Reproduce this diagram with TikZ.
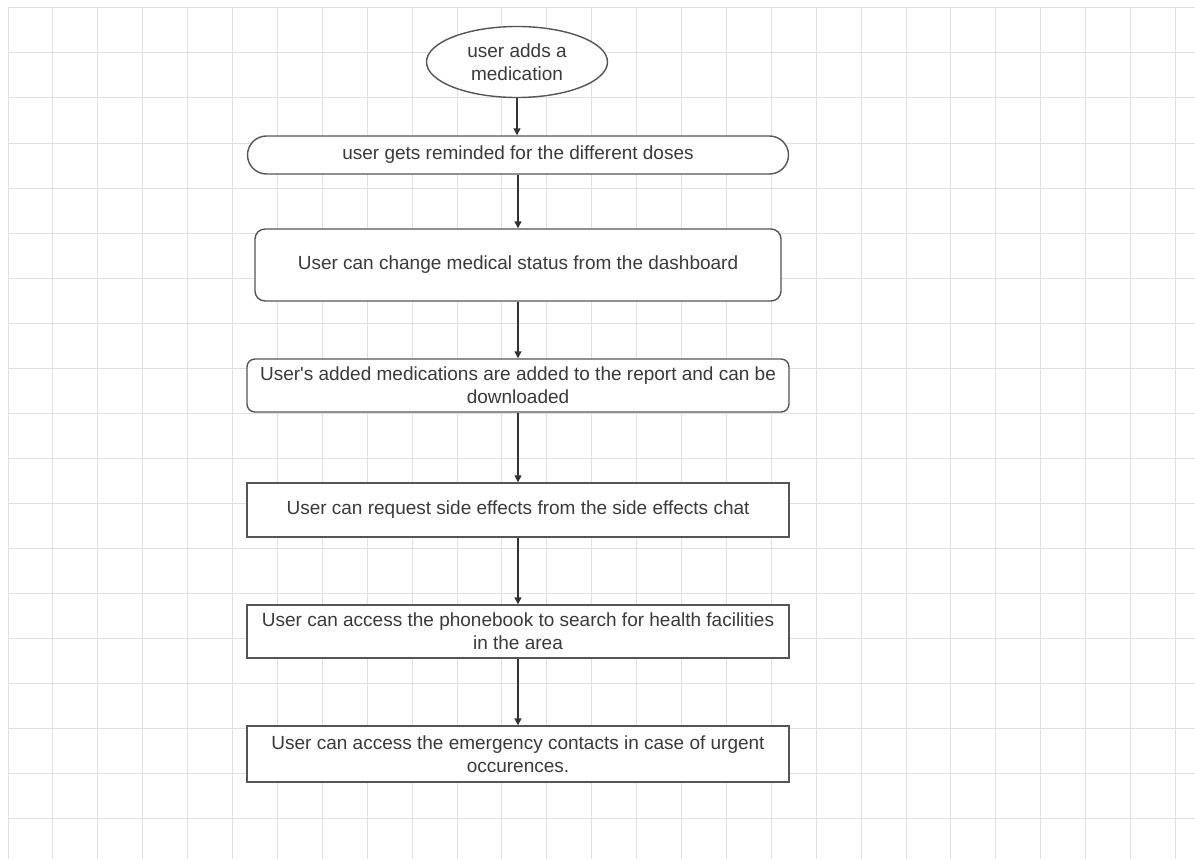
\documentclass[tikz,border=0pt]{standalone}
\usepackage{fontspec}
\setmainfont{Liberation Sans}
\usetikzlibrary{shapes.geometric,arrows.meta}
\definecolor{gridc}{HTML}{E0E0E0}
\definecolor{edgec}{HTML}{555555}
\definecolor{textc}{HTML}{3A3A3A}
\definecolor{arrc}{HTML}{333333}
\tikzset{
  gridline/.style={draw=gridc, line width=1pt},
  flowbox/.style={draw=edgec, line width=1.4pt, fill=white, text=textc, align=center,
    inner sep=0pt, font=\fontsize{19}{23}\selectfont},
  startnode/.style={flowbox, ellipse},
  flowarrow/.style={draw=arrc, line width=1.4pt, -{Triangle[length=7pt,width=7pt]}}
}
\begin{document}
\begin{tikzpicture}[x=1pt,y=-1pt]
\useasboundingbox (0,0) rectangle (1195,859);
\fill[white] (0,0) rectangle (1195,859);
\foreach \i in {0,...,26} {\draw[gridline] ({8+44.9*\i},8) -- ({8+44.9*\i},859);}
\foreach \j in {0,...,18} {\draw[gridline] (8,{8+45*\j}) -- (1195,{8+45*\j});}

\node[startnode, minimum width=181pt, minimum height=71pt] (start) at (517,62) {user adds a\\medication};
\node[flowbox, rounded corners=19pt, minimum width=541pt, minimum height=38pt] (remind) at (518,155) {user gets reminded for the different doses};
\node[flowbox, rounded corners=10pt, minimum width=526pt, minimum height=72pt] (status) at (518,265) {User can change medical status from the dashboard};
\node[flowbox, rounded corners=8pt, minimum width=542pt, minimum height=53pt] (report) at (518,385.5) {User\textquotesingle s added medications are added to the report and can be\\downloaded};
\node[flowbox, minimum width=542pt, minimum height=54pt] (side) at (518,510) {User can request side effects from the side effects chat};
\node[flowbox, minimum width=542pt, minimum height=53pt] (phone) at (518,631.5) {User can access the phonebook to search for health facilities\\in the area};
\node[flowbox, minimum width=542pt, minimum height=56pt] (emerg) at (518,754) {User can access the emergency contacts in case of urgent\\occurences.};

\draw[flowarrow] (start.south) -- (start.south |- remind.north);
\draw[flowarrow] (remind.south) -- (remind.south |- status.north);
\draw[flowarrow] (status.south) -- (status.south |- report.north);
\draw[flowarrow] (report.south) -- (report.south |- side.north);
\draw[flowarrow] (side.south) -- (side.south |- phone.north);
\draw[flowarrow] (phone.south) -- (phone.south |- emerg.north);
\end{tikzpicture}
\end{document}
